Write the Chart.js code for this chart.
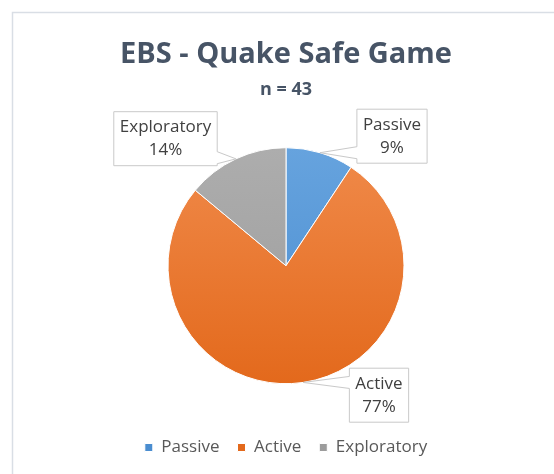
<!DOCTYPE html>
<html>
<head>
<meta charset="utf-8">
<script src="https://cdn.jsdelivr.net/npm/chart.js@4/dist/chart.umd.min.js"></script>
<style>
  html, body { margin: 0; padding: 0; background: #ffffff; }
  #wrap { width: 554px; height: 474px; }
</style>
</head>
<body>
<div id="wrap"><canvas id="c" width="554" height="474"></canvas></div>
<script>
// ---- data ----
const categories = ["Passive", "Active", "Exploratory"];
const counts = [4, 33, 6];            // n = 43
const percentLabels = ["9%", "77%", "14%"];
const titleText = "EBS - Quake Safe Game";
const subtitleText = "n = 43";

// ---- styles ----
const gradTop = ["#66A3DE", "#F08A4A", "#ADADAD"];
const gradBottom = ["#4A8DD0", "#E3691C", "#9C9C9C"];
const solid = ["#5B9BD5", "#ED7D31", "#A5A5A5"];
const PIE_R = 118;
const FONT = "'Open Sans', 'Liberation Sans', sans-serif";

function sliceColor(ctx) {
  const chart = ctx.chart;
  const ca = chart.chartArea;
  const i = ctx.dataIndex;
  if (!ca) return solid[i];
  const cy = (ca.top + ca.bottom) / 2;
  const g = chart.ctx.createLinearGradient(0, cy - PIE_R, 0, cy + PIE_R);
  g.addColorStop(0, gradTop[i]);
  g.addColorStop(1, gradBottom[i]);
  return g;
}

// frame border plugin
const framePlugin = {
  id: 'frame',
  beforeDraw(chart) {
    const c = chart.ctx;
    c.save();
    c.fillStyle = '#ffffff';
    c.fillRect(0, 0, chart.width, chart.height);
    c.strokeStyle = '#D9DEE5';
    c.lineWidth = 1.5;
    c.strokeRect(12.5, 12.5, chart.width + 20, chart.height + 20);
    c.restore();
  }
};

// callout labels plugin
const calloutPlugin = {
  id: 'callouts',
  afterDatasetsDraw(chart, args, opts) {
    const c = chart.ctx;
    const meta = chart.getDatasetMeta(0);
    c.save();
    c.font = opts.font;
    meta.data.forEach((arc, i) => {
      const p = arc.getProps(['x', 'y', 'startAngle', 'endAngle', 'outerRadius'], true);
      const mid = (p.startAngle + p.endAngle) / 2;
      const ax = p.x + Math.cos(mid) * p.outerRadius;
      const ay = p.y + Math.sin(mid) * p.outerRadius;
      const l1 = categories[i], l2 = percentLabels[i];
      const tw = Math.max(c.measureText(l1).width, c.measureText(l2).width);
      const w = tw + opts.padX * 2;
      const h = opts.boxH;
      const off = opts.offsets[i];
      const bx = p.x + off[0] - w / 2;
      const by = p.y + off[1] - h / 2;
      let pts;
      const hw = 6;
      const clamp = (v, a, b) => Math.max(a, Math.min(b, v));
      if (ax < bx) {
        const yc = clamp(ay, by + hw + 2, by + h - hw - 2);
        pts = { side: 'left', a: [bx, yc - hw], b: [bx, yc + hw] };
      } else if (ax > bx + w) {
        const yc = clamp(ay, by + hw + 2, by + h - hw - 2);
        pts = { side: 'right', a: [bx + w, yc - hw], b: [bx + w, yc + hw] };
      } else if (ay > by + h) {
        const xc = clamp(ax, bx + hw + 2, bx + w - hw - 2);
        pts = { side: 'bottom', a: [xc - hw, by + h], b: [xc + hw, by + h] };
      } else {
        const xc = clamp(ax, bx + hw + 2, bx + w - hw - 2);
        pts = { side: 'top', a: [xc - hw, by], b: [xc + hw, by] };
      }
      const L = bx, T = by, R = bx + w, B = by + h;
      c.beginPath();
      c.moveTo(L, T);
      if (pts.side === 'top') { c.lineTo(pts.a[0], T); c.lineTo(ax, ay); c.lineTo(pts.b[0], T); }
      c.lineTo(R, T);
      if (pts.side === 'right') { c.lineTo(R, pts.a[1]); c.lineTo(ax, ay); c.lineTo(R, pts.b[1]); }
      c.lineTo(R, B);
      if (pts.side === 'bottom') { c.lineTo(pts.b[0], B); c.lineTo(ax, ay); c.lineTo(pts.a[0], B); }
      c.lineTo(L, B);
      if (pts.side === 'left') { c.lineTo(L, pts.b[1]); c.lineTo(ax, ay); c.lineTo(L, pts.a[1]); }
      c.closePath();
      c.fillStyle = '#ffffff';
      c.fill();
      c.strokeStyle = '#C9C9C9';
      c.lineWidth = 1;
      c.stroke();
      c.fillStyle = opts.color;
      c.textAlign = 'center';
      c.textBaseline = 'middle';
      const cx = bx + w / 2;
      c.fillText(l1, cx, by + h / 2 - opts.lineGap / 2);
      c.fillText(l2, cx, by + h / 2 + opts.lineGap / 2);
    });
    c.restore();
  }
};

new Chart(document.getElementById('c'), {
  type: 'pie',
  data: {
    labels: categories,
    datasets: [{
      data: counts,
      backgroundColor: sliceColor,
      borderColor: '#ffffff',
      borderWidth: 1,
      radius: PIE_R,
      hoverOffset: 0
    }]
  },
  plugins: [framePlugin, calloutPlugin],
  options: {
    responsive: false,
    animation: false,
    events: [],
    layout: { padding: { left: 18, right: 0, top: 37, bottom: 8 } },
    plugins: {
      title: {
        display: true,
        text: titleText,
        color: '#475466',
        font: { family: FONT, size: 29, weight: 'bold' },
        padding: { top: 0, bottom: 7 }
      },
      subtitle: {
        display: true,
        text: subtitleText,
        color: '#475466',
        font: { family: FONT, size: 18, weight: 'bold' },
        padding: { top: 0, bottom: 10 }
      },
      legend: {
        position: 'bottom',
        labels: {
          boxWidth: 8,
          boxHeight: 8,
          padding: 18,
          color: '#595959',
          font: { family: FONT, size: 17 }
        }
      },
      tooltip: { enabled: false },
      callouts: {
        font: "17px " + FONT,
        color: '#404040',
        padX: 6,
        boxH: 54,
        lineGap: 23,
        offsets: [[106, -129.5], [93, 129.5], [-120.5, -127]]
      }
    }
  }
});
</script>
</body>
</html>
